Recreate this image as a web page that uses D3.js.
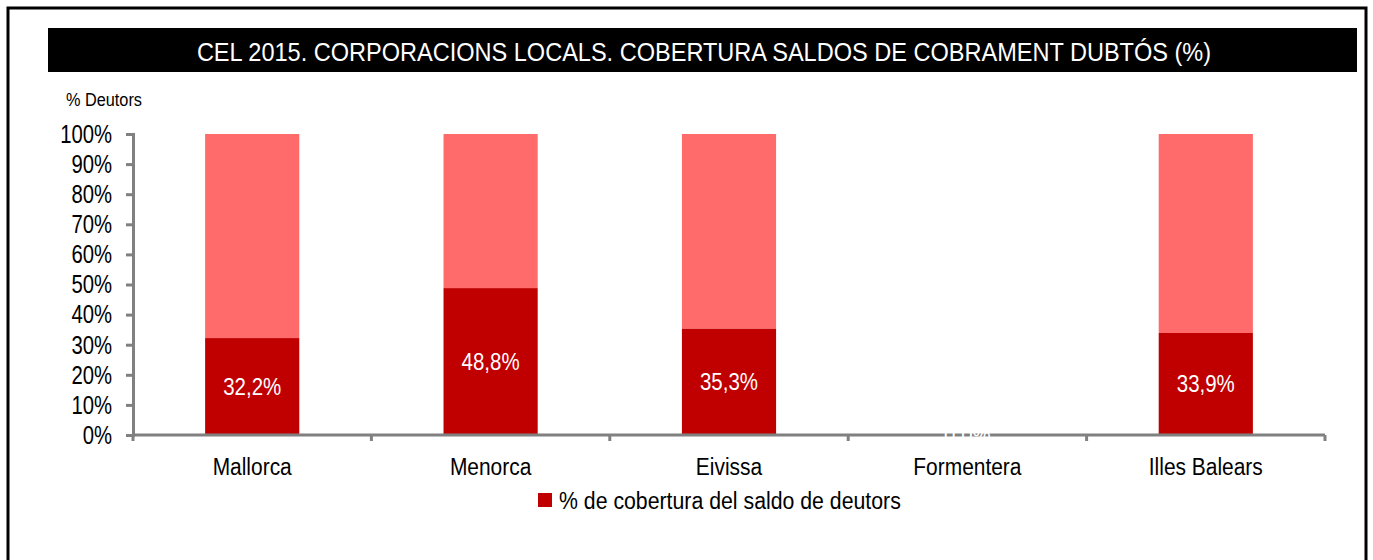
<!DOCTYPE html>
<html>
<head>
    <meta charset='utf-8'>
    <title>CEL 2015</title>
    <script src="https://cdnjs.cloudflare.com/ajax/libs/d3/7.8.5/d3.min.js"></script>
    <style>
        body { margin: 0; background: #fff; }
        text { font-family: "Liberation Sans", Arial, sans-serif; }
    </style>
</head>
<body>
<script>
    const categories = ["Mallorca", "Menorca", "Eivissa", "Formentera", "Illes Balears"];
    const cobertura = [32.2, 48.8, 35.3, 0.0, 33.9];
    const resta = [67.8, 51.2, 64.7, 0.0, 66.1];
    const yTicks = [0, 10, 20, 30, 40, 50, 60, 70, 80, 90, 100];
    const titleText = "CEL 2015. CORPORACIONS LOCALS. COBERTURA SALDOS DE COBRAMENT DUBTÓS (%)";
    const legendText = "% de cobertura del saldo de deutors";

    const w = 1373, h = 560;
    const plotLeft = 133, plotRight = 1325, plotTop = 134, plotBottom = 435;

    // the original uses a narrow font, so squeeze the glyphs horizontally
    function condense(sel, sx) {
        sel.each(function () {
            const len = this.getComputedTextLength();
            d3.select(this).attr("textLength", len * sx).attr("lengthAdjust", "spacingAndGlyphs");
        });
    }

    const svg = d3.select("body").append("svg")
        .attr("width", w).attr("height", h);

    // frame
    svg.append("rect")
        .attr("x", 8).attr("y", 8).attr("width", 1358).attr("height", 560)
        .attr("fill", "none").attr("stroke", "#000").attr("stroke-width", 3);

    // title bar
    svg.append("rect")
        .attr("x", 48).attr("y", 28).attr("width", 1309).attr("height", 44)
        .attr("fill", "#000");
    svg.append("text")
        .attr("x", 704).attr("y", 52)
        .attr("text-anchor", "middle").attr("dominant-baseline", "central")
        .attr("fill", "#fff").attr("font-size", 26)
        .text(titleText)
        .call(condense, 0.905);

    svg.append("text")
        .attr("x", 66).attr("y", 100)
        .attr("dominant-baseline", "central")
        .attr("font-size", 17.5)
        .text("% Deutors")
        .call(condense, 0.93);

    const x = d3.scaleBand().domain(categories).range([plotLeft, plotRight]).paddingInner(0.605).paddingOuter(0.3025);
    const y = d3.scaleLinear().domain([0, 100]).range([plotBottom, plotTop]);

    const rows = categories.map((c, i) => ({ cat: c, a: cobertura[i], b: resta[i] }));

    // upper (remainder) segment
    svg.selectAll("rect.rest").data(rows.filter(d => d.b > 0)).enter()
        .append("rect").attr("class", "rest")
        .attr("x", d => x(d.cat)).attr("width", x.bandwidth())
        .attr("y", d => y(d.a + d.b)).attr("height", d => y(d.a) - y(d.a + d.b))
        .attr("fill", "#ff6b6b");

    // lower segment
    svg.selectAll("rect.cob").data(rows).enter()
        .append("rect").attr("class", "cob")
        .attr("x", d => x(d.cat)).attr("width", x.bandwidth())
        .attr("y", d => y(d.a)).attr("height", d => y(0) - y(d.a))
        .attr("fill", "#c00000");

    // axes
    const yAxis = d3.axisLeft(y).tickValues(yTicks).tickFormat(d => d + "%").tickSize(7).tickPadding(14);
    const gy = svg.append("g").attr("transform", `translate(${plotLeft},0)`).call(yAxis);
    gy.select(".domain").attr("stroke", "#808080").attr("stroke-width", 3);
    gy.selectAll(".tick line").attr("stroke", "#808080").attr("stroke-width", 3);
    gy.selectAll(".tick text").attr("font-size", 26).attr("fill", "#000")
        .style("font-family", "'Liberation Sans', Arial, sans-serif")
        .call(condense, 0.78);

    const gx = svg.append("g").attr("transform", `translate(0,${plotBottom})`);
    gx.append("line").attr("x1", plotLeft).attr("x2", plotRight).attr("y1", 0).attr("y2", 0)
        .attr("stroke", "#808080").attr("stroke-width", 3);
    const bounds = categories.map(c => x(c) - x.step() * x.paddingInner() / 2).concat([plotRight]);
    gx.selectAll("line.tk").data(bounds).enter().append("line").attr("class", "tk")
        .attr("x1", d => d).attr("x2", d => d).attr("y1", 0).attr("y2", 6)
        .attr("stroke", "#808080").attr("stroke-width", 3);
    gx.selectAll("text").data(categories).enter().append("text")
        .attr("x", d => x(d) + x.bandwidth() / 2).attr("y", 32)
        .attr("text-anchor", "middle").attr("dominant-baseline", "central")
        .attr("font-size", 23).text(d => d)
        .call(condense, 0.91);

    // value labels
    svg.selectAll("text.val").data(rows).enter().append("text").attr("class", "val")
        .attr("x", d => x(d.cat) + x.bandwidth() / 2)
        .attr("y", d => (y(0) + y(d.a)) / 2)
        .attr("text-anchor", "middle").attr("dominant-baseline", "central")
        .attr("fill", "#fff").attr("font-size", 23)
        .text(d => d3.format(".1f")(d.a).replace(".", ",") + "%")
        .call(condense, 0.89);

    // legend
    const lg = svg.append("g").attr("transform", "translate(538,493)");
    lg.append("rect").attr("width", 14).attr("height", 14).attr("fill", "#c00000");
    lg.append("text").attr("x", 21).attr("y", 8).attr("dominant-baseline", "central")
        .attr("font-size", 23).text(legendText)
        .call(condense, 0.925);
</script>
</body>
</html>
